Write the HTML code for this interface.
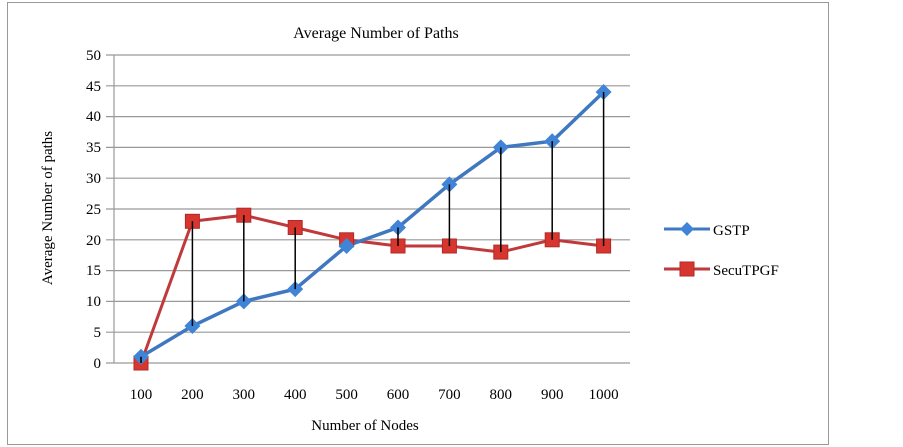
<!DOCTYPE html>
<html><head><style>body{margin:0;background:#fff}svg{display:block}text{font-family:"Liberation Serif",serif;fill:#000}</style></head>
<body>
<svg width="903" height="447" xmlns="http://www.w3.org/2000/svg">
<rect x="7.5" y="2.5" width="821" height="442" fill="#fff" stroke="#999" stroke-width="1"/>
<text x="376" y="38" font-size="16" text-anchor="middle">Average Number of  Paths</text>
<g stroke="#999" stroke-width="1.2">
<line x1="106" x2="630" y1="55" y2="55"/><line x1="106" x2="630" y1="85.8" y2="85.8"/><line x1="106" x2="630" y1="116.6" y2="116.6"/><line x1="106" x2="630" y1="147.4" y2="147.4"/><line x1="106" x2="630" y1="178.2" y2="178.2"/><line x1="106" x2="630" y1="209" y2="209"/><line x1="106" x2="630" y1="239.8" y2="239.8"/><line x1="106" x2="630" y1="270.6" y2="270.6"/><line x1="106" x2="630" y1="301.4" y2="301.4"/><line x1="106" x2="630" y1="332.2" y2="332.2"/><line x1="106" x2="630" y1="363" y2="363"/>
<line x1="114" x2="114" y1="55" y2="363"/>
</g>
<g font-size="15" text-anchor="end">
<text x="101" y="60">50</text><text x="101" y="91">45</text><text x="101" y="121">40</text><text x="101" y="152">35</text><text x="101" y="183">30</text><text x="101" y="214">25</text><text x="101" y="245">20</text><text x="101" y="275">15</text><text x="101" y="306">10</text><text x="101" y="337">5</text><text x="101" y="368">0</text>
</g>
<g font-size="15" text-anchor="middle">
<text x="141" y="399">100</text><text x="192.4" y="399">200</text><text x="243.8" y="399">300</text><text x="295.2" y="399">400</text><text x="346.6" y="399">500</text><text x="398" y="399">600</text><text x="449.4" y="399">700</text><text x="500.8" y="399">800</text><text x="552.2" y="399">900</text><text x="603.6" y="399">1000</text>
</g>
<text x="365" y="430" font-size="15" text-anchor="middle">Number of Nodes</text>
<text transform="translate(52,208) rotate(-90)" font-size="15" text-anchor="middle">Average Number of paths</text>
<polyline fill="none" stroke="#c0393b" stroke-width="3" points="141,363 192.4,221.3 243.8,215.2 295.2,227.5 346.6,239.8 398,246 449.4,246 500.8,252.1 552.2,239.8 603.6,246"/>
<polyline fill="none" stroke="#3f78c0" stroke-width="3.5" points="141,356.8 192.4,326 243.8,301.4 295.2,289.1 346.6,246 398,227.5 449.4,184.4 500.8,147.4 552.2,141.2 603.6,92"/>
<g fill="#d7362f" stroke="#b02a2a" stroke-width="1">
<rect x="134" y="356" width="14" height="14"/><rect x="185.4" y="214.3" width="14" height="14"/><rect x="236.8" y="208.2" width="14" height="14"/><rect x="288.2" y="220.5" width="14" height="14"/><rect x="339.6" y="232.8" width="14" height="14"/><rect x="391" y="239" width="14" height="14"/><rect x="442.4" y="239" width="14" height="14"/><rect x="493.8" y="245.1" width="14" height="14"/><rect x="545.2" y="232.8" width="14" height="14"/><rect x="596.6" y="239" width="14" height="14"/>
</g>
<g fill="#3f84d6">
<path d="M141 348.8l8 8-8 8-8-8z"/><path d="M192.4 318l8 8-8 8-8-8z"/><path d="M243.8 293.4l8 8-8 8-8-8z"/><path d="M295.2 281.1l8 8-8 8-8-8z"/><path d="M346.6 238l8 8-8 8-8-8z"/><path d="M398 219.5l8 8-8 8-8-8z"/><path d="M449.4 176.4l8 8-8 8-8-8z"/><path d="M500.8 139.4l8 8-8 8-8-8z"/><path d="M552.2 133.2l8 8-8 8-8-8z"/><path d="M603.6 84l8 8-8 8-8-8z"/>
</g>
<g stroke="#000" stroke-width="1.5">
<line x1="141" x2="141" y1="356.8" y2="363"/><line x1="192.4" x2="192.4" y1="221.3" y2="326"/><line x1="243.8" x2="243.8" y1="215.2" y2="301.4"/><line x1="295.2" x2="295.2" y1="227.5" y2="289.1"/><line x1="398" x2="398" y1="227.5" y2="246"/><line x1="449.4" x2="449.4" y1="184.4" y2="246"/><line x1="500.8" x2="500.8" y1="147.4" y2="252.1"/><line x1="552.2" x2="552.2" y1="141.2" y2="239.8"/><line x1="603.6" x2="603.6" y1="92" y2="246"/>
</g>
<line x1="664" x2="710" y1="229" y2="229" stroke="#3f78c0" stroke-width="3"/>
<path d="M687 222l7 7-7 7-7-7z" fill="#3f84d6"/>
<text x="713" y="235" font-size="15">GSTP</text>
<line x1="664" x2="710" y1="269" y2="269" stroke="#c0393b" stroke-width="3"/>
<rect x="680" y="262" width="14" height="14" fill="#d7362f" stroke="#b02a2a"/>
<text x="713" y="275" font-size="15">SecuTPGF</text>
</svg>
</body></html>
